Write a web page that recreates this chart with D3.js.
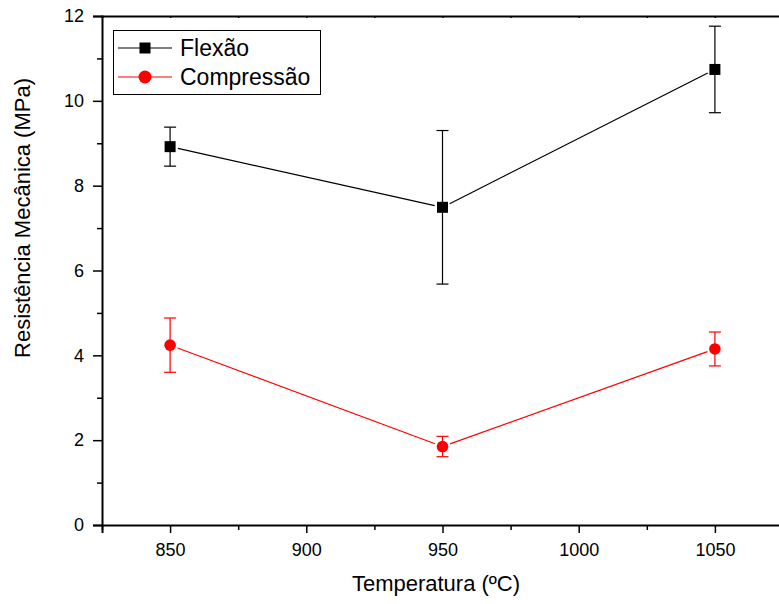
<!DOCTYPE html>
<html>
<head>
<meta charset="utf-8">
<script src="https://cdn.jsdelivr.net/npm/d3@7"></script>
<style>
	body { margin: 0; background: #fff; }
	svg { font-family: Arial, "Liberation Sans", sans-serif; }
</style>
</head>
<body>
<svg id="chart" width="779" height="604"></svg>
<script>
// data
const temperatures = [850, 950, 1050];
const flexao = [8.92, 7.49, 10.74];
const flexaoErr = [0.46, 1.81, 1.02];
const compressao = [4.24, 1.85, 4.15];
const compressaoErr = [0.64, 0.24, 0.40];
const xTicks = [850, 900, 950, 1000, 1050];
const yTicks = [0, 2, 4, 6, 8, 10, 12];

const series = [
	{ name: "Flexão", values: flexao, errors: flexaoErr, color: "#000", shape: "square" },
	{ name: "Compressão", values: compressao, errors: compressaoErr, color: "#ff0000", shape: "circle" }
];

const margin = { left: 102, top: 16, right: 0, bottom: 79 };
const svg = d3.select("#chart");

const x = d3.scaleLinear().domain([825, 1075]).range([margin.left, 783]);
const y = d3.scaleLinear().domain([0, 12]).range([525, margin.top]);

// minor ticks
const xMinor = d3.range(825, 1076, 25).filter(v => !xTicks.includes(v));
const yMinor = d3.range(1, 12, 2);

const axes = svg.append("g").classed("axes", true);

axes.append("g")
	.attr("transform", `translate(0,${y(0)})`)
	.call(d3.axisBottom(x).tickValues(xMinor).tickSize(5).tickFormat(""))
	.call(g => g.select(".domain").remove());

axes.append("g")
	.attr("transform", `translate(0,${y(0)})`)
	.call(d3.axisBottom(x).tickValues(xTicks).tickSize(8).tickPadding(10).tickFormat(d3.format("d")))
	.call(g => g.select(".domain").attr("stroke-width", 2))
	.call(g => g.selectAll("text").attr("font-size", 18).attr("fill", "#000"));

axes.append("g")
	.attr("transform", `translate(${x(825)},0)`)
	.call(d3.axisLeft(y).tickValues(yMinor).tickSize(5).tickFormat(""))
	.call(g => g.select(".domain").remove());

axes.append("g")
	.attr("transform", `translate(${x(825)},0)`)
	.call(d3.axisLeft(y).tickValues(yTicks).tickSize(9).tickPadding(9).tickFormat(d3.format("d")))
	.call(g => g.select(".domain").attr("stroke-width", 2))
	.call(g => g.selectAll("text").attr("font-size", 18).attr("fill", "#000"));

// top axis, no labels
axes.append("g")
	.attr("transform", `translate(0,${y(12)})`)
	.call(d3.axisBottom(x).tickValues(xTicks.concat(xMinor)).tickSize(2).tickFormat(""))
	.call(g => g.select(".domain").attr("stroke-width", 2));

axes.selectAll(".domain").attr("stroke", "#000");
axes.selectAll(".tick line").attr("stroke", "#000").attr("stroke-width", 1.5);

// axis titles
svg.append("text")
	.attr("x", 436)
	.attr("y", 591)
	.attr("text-anchor", "middle")
	.attr("font-size", 22)
	.text("Temperatura (ºC)");

svg.append("text")
	.attr("transform", "translate(30,218) rotate(-90)")
	.attr("text-anchor", "middle")
	.attr("font-size", 22)
	.text("Resistência Mecânica (MPa)");

// draw series
const gap = 8;
const plot = svg.append("g").classed("series", true);

series.forEach(s => {
	const pts = temperatures.map((t, i) => ({ x: x(t), y: y(s.values[i]), top: y(s.values[i] + s.errors[i]), bottom: y(s.values[i] - s.errors[i]) }));
	const g = plot.append("g");

	// connecting segments with a small gap at each marker
	const segs = d3.pairs(pts).map(([a, b]) => {
		const dx = b.x - a.x, dy = b.y - a.y, len = Math.hypot(dx, dy);
		const ux = dx / len, uy = dy / len;
		return { x1: a.x + ux * gap, y1: a.y + uy * gap, x2: b.x - ux * gap, y2: b.y - uy * gap };
	});
	g.selectAll("line.seg")
		.data(segs).enter()
		.append("line")
		.attr("x1", d => d.x1).attr("y1", d => d.y1)
		.attr("x2", d => d.x2).attr("y2", d => d.y2)
		.attr("stroke", s.color)
		.attr("stroke-width", 1.2);

	// error bars
	const eb = g.selectAll("g.err").data(pts).enter().append("g");
	eb.append("line")
		.attr("x1", d => d.x).attr("x2", d => d.x)
		.attr("y1", d => d.top).attr("y2", d => d.bottom)
		.attr("stroke", s.color).attr("stroke-width", 1.2);
	eb.append("line")
		.attr("x1", d => d.x - 6).attr("x2", d => d.x + 6)
		.attr("y1", d => d.top).attr("y2", d => d.top)
		.attr("stroke", s.color).attr("stroke-width", 1.2);
	eb.append("line")
		.attr("x1", d => d.x - 6).attr("x2", d => d.x + 6)
		.attr("y1", d => d.bottom).attr("y2", d => d.bottom)
		.attr("stroke", s.color).attr("stroke-width", 1.2);

	// markers
	if (s.shape === "square") {
		g.selectAll("rect").data(pts).enter()
			.append("rect")
			.attr("x", d => d.x - 5.5).attr("y", d => d.y - 5.5)
			.attr("width", 11).attr("height", 11)
			.attr("fill", s.color);
	} else {
		g.selectAll("circle").data(pts).enter()
			.append("circle")
			.attr("cx", d => d.x).attr("cy", d => d.y)
			.attr("r", 5.8)
			.attr("fill", s.color);
	}
});

// legend
const legend = svg.append("g").classed("legend", true);
legend.append("rect")
	.attr("x", 113.5).attr("y", 30.5)
	.attr("width", 207).attr("height", 64)
	.attr("fill", "#fff")
	.attr("stroke", "#000");

const rows = legend.selectAll("g.row")
	.data(series).enter()
	.append("g")
	.attr("transform", (d, i) => `translate(0,${[48, 77][i]})`);

rows.append("line")
	.attr("x1", 118).attr("x2", 172)
	.attr("stroke", d => d.color)
	.attr("stroke-width", 1.2);
rows.filter(d => d.shape === "square").append("rect")
	.attr("x", 139.5).attr("y", -5.5).attr("width", 11).attr("height", 11)
	.attr("fill", d => d.color);
rows.filter(d => d.shape === "circle").append("circle")
	.attr("cx", 145).attr("r", 6.5)
	.attr("fill", d => d.color);
rows.append("text")
	.attr("x", 180).attr("y", 8)
	.attr("font-size", 23)
	.text(d => d.name);
</script>
</body>
</html>
